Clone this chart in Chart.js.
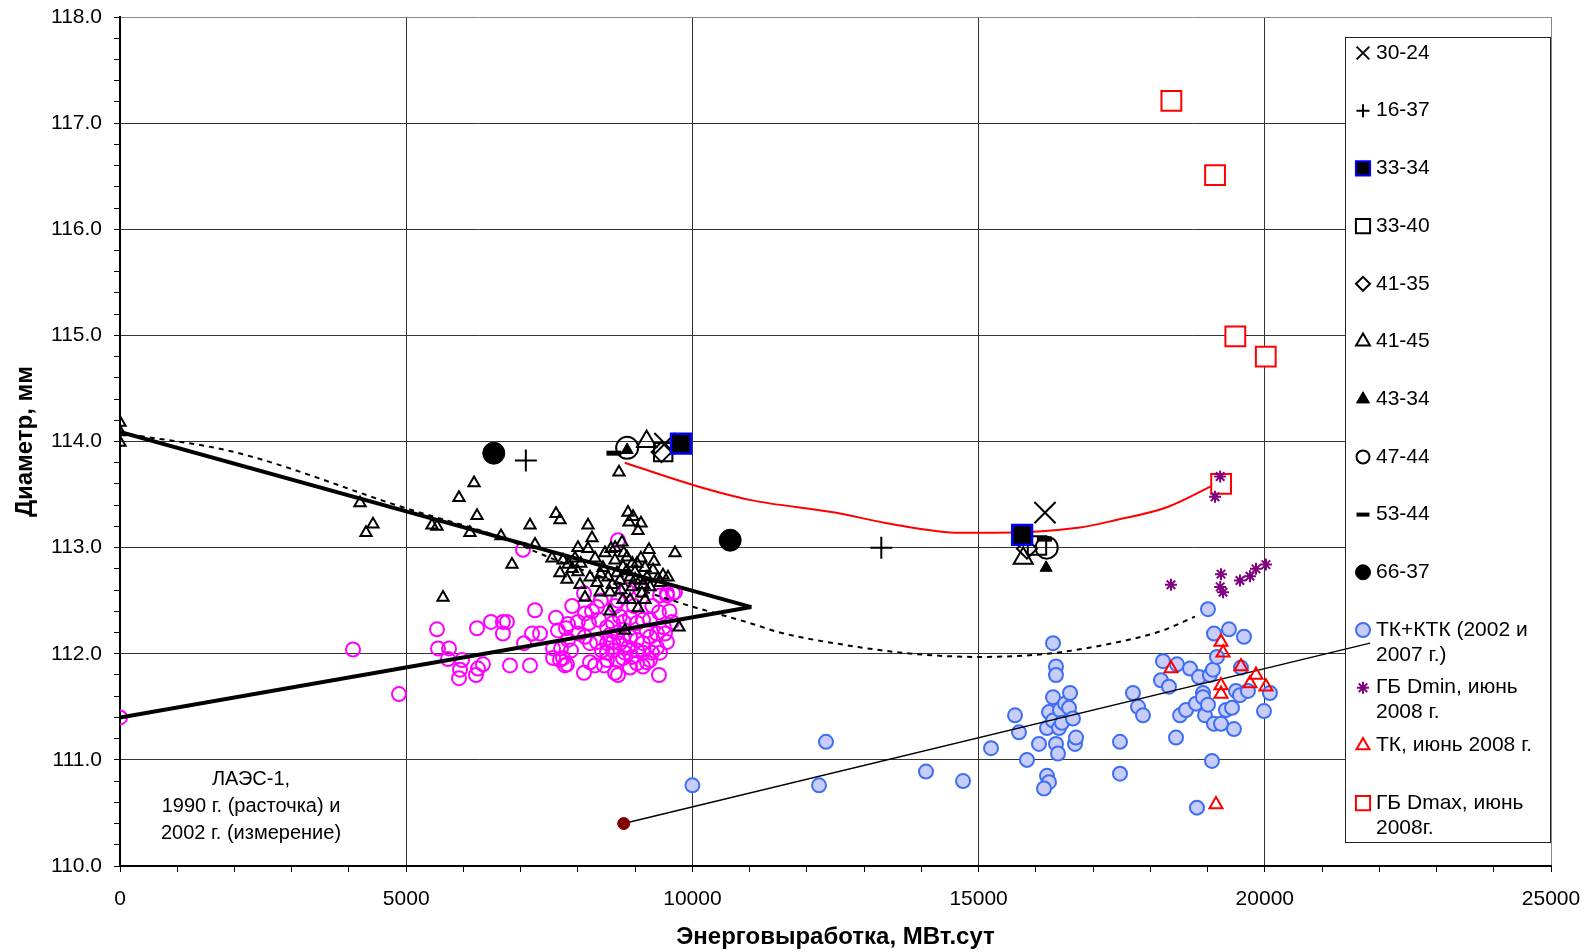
<!DOCTYPE html>
<html>
<head>
<meta charset="utf-8">
<script src="https://cdn.jsdelivr.net/npm/chart.js@4.4.0/dist/chart.umd.min.js"></script>
<style>
  html, body { margin: 0; padding: 0; background: #fff; }
  #wrap { width: 1591px; height: 952px; }
</style>
</head>
<body>
<div id="wrap"><canvas id="chart" width="1591" height="952"></canvas></div>
<script>
// axis ticks (major ones get labels and grid lines)
const xMajorTicks = [0, 5000, 10000, 15000, 20000, 25000];
const yMajorTicks = [110, 111, 112, 113, 114, 115, 116, 117, 118];

// single channels (2 points each)
const s3024 = [[9520, 113.98], [16160, 113.33]];
const s1637 = [[7090, 113.82], [13300, 113.0]];
const s3334 = [[9800, 113.98], [15760, 113.12]];
const s3340 = [[9490, 113.9], [16020, 113.02]];
const s4135 = [[9460, 113.9], [15845, 112.99]];
const s4145 = [[9200, 114.0], [15780, 112.9]];
const s4334 = [[8860, 113.92], [16180, 112.81]];
const s4744 = [[8860, 113.94], [16190, 113.0]];
const s5344 = [[8630, 113.89], [16150, 113.08]];
const s6637 = [[6530, 113.89], [10660, 113.07]];

// ТК+КТК (2002 и 2007 г.)
const tkKtk = [
  [10000, 110.76], [12334, 111.17], [12212, 110.76], [14081, 110.89], [14728, 110.8],
  [15217, 111.11], [15636, 111.42], [15706, 111.26], [15845, 111.0], [16055, 111.15],
  [16195, 110.85], [16230, 110.79], [16142, 110.73], [16195, 111.3], [16230, 111.45],
  [16300, 112.1], [16352, 111.88], [16352, 111.8], [16300, 111.59], [16300, 111.37],
  [16352, 111.15], [16387, 111.06], [16405, 111.3], [16422, 111.47], [16457, 111.35],
  [16510, 111.53], [16580, 111.49], [16597, 111.63], [16649, 111.39], [16684, 111.15],
  [16702, 111.21], [17470, 111.17], [17470, 110.87], [17697, 111.63], [17785, 111.5],
  [17872, 111.42], [18186, 111.75], [18221, 111.93], [18326, 111.69], [18449, 111.21],
  [18466, 111.9], [18519, 111.42], [18624, 111.47], [18693, 111.86], [18798, 111.53],
  [18850, 111.78], [18920, 111.63], [18920, 111.59], [18955, 111.42], [19007, 111.52],
  [19007, 112.42], [19042, 111.8], [19077, 110.99], [18815, 110.55], [19094, 111.85],
  [19112, 112.19], [19112, 111.34], [19164, 111.97], [19235, 111.34], [19322, 111.47],
  [19374, 112.23], [19427, 111.49], [19461, 111.29], [19496, 111.65], [19566, 111.61],
  [19584, 111.87], [19636, 112.16], [19706, 111.65], [19986, 111.46], [20090, 111.63]
];

// ГБ Dmin, июнь 2008 г.
const gbDmin = [
  [18361, 112.65], [19220, 113.67], [19131, 113.48], [19235, 112.75], [19221, 112.63],
  [19270, 112.58], [19566, 112.69], [19741, 112.73], [19846, 112.8], [20020, 112.84]
];

// ТК, июнь 2008 г.
const tk2008 = [
  [19235, 112.11], [19270, 112.01], [18361, 111.86], [19584, 111.88], [19846, 111.8],
  [19741, 111.72], [20020, 111.69], [19235, 111.7], [19235, 111.62], [19147, 110.58]
];

// ГБ Dmax, июнь 2008г.
const gbDmax = [[18368, 117.21], [19131, 116.51], [19485, 114.99], [20017, 114.8], [19237, 113.6]];

// ЛАЭС-1, 1990 (расточка) – magenta rings
const laesBore = [
  [0, 111.4], [4071, 112.04], [4874, 111.62], [5538, 112.23], [5556, 112.05], [5748, 112.05],
  [5730, 111.95], [5975, 111.94], [5940, 111.85], [5922, 111.77], [6237, 112.24], [6481, 112.3],
  [6690, 112.3], [6760, 112.3], [6690, 112.19], [6341, 111.9], [6254, 111.86], [6219, 111.8],
  [6813, 111.89], [7163, 111.89], [7250, 112.41], [7198, 112.19], [7338, 112.19], [7058, 112.1],
  [7617, 112.34], [7652, 112.22], [7792, 112.24], [7827, 112.13], [7565, 111.96], [7687, 111.94],
  [7774, 111.89], [7040, 112.98], [7827, 112.28], [7565, 112.05], [7705, 112.05], [7879, 112.03],
  [7740, 111.96], [7810, 111.9], [8106, 111.82], [8211, 111.92], [8298, 111.89], [8455, 111.89],
  [8648, 111.82], [8700, 111.8], [8124, 112.38], [8246, 112.4], [8368, 112.32], [8193, 112.29],
  [8001, 112.19], [8124, 112.16], [8211, 112.1], [8333, 112.11], [8420, 112.03], [8508, 112.01],
  [8613, 112.03], [8700, 111.94], [8822, 112.01], [8945, 111.97], [9032, 111.91], [9207, 111.92],
  [9294, 112.01], [9434, 112.01], [9556, 112.11], [9521, 112.19], [9643, 112.3], [9416, 111.8],
  [9696, 112.58], [9556, 112.57], [9416, 112.39], [9259, 112.32], [9137, 112.32], [9032, 112.29],
  [8910, 112.34], [8735, 112.35], [8613, 112.29], [8508, 112.25], [8560, 112.18], [8700, 112.2],
  [8787, 112.14], [8910, 112.16], [9032, 112.13], [9137, 112.1], [9259, 112.16], [9381, 112.19],
  [9381, 112.06], [9137, 112.01], [9032, 112.03], [8875, 112.06], [8735, 112.1], [8613, 112.11],
  [8508, 112.1], [8787, 111.96], [8910, 111.87], [9137, 111.88], [9259, 111.94], [8508, 111.94],
  [8700, 113.07], [8106, 112.57], [8700, 112.5], [8333, 112.44], [9556, 112.55], [9661, 112.57],
  [9434, 112.55], [8980, 112.45], [9100, 112.6], [8850, 112.6], [9300, 112.45], [9500, 112.25],
  [9600, 112.4], [8650, 112.45], [8800, 112.3], [9200, 112.22], [8400, 112.5], [8000, 112.3],
  [7900, 112.45]
];

// ЛАЭС-1, 2002 (измерение) – small open triangles
const laesMeas = [
  [0, 114.18], [0, 114.09], [0, 113.99], [4193, 113.42], [4420, 113.22], [4298, 113.14],
  [5451, 113.21], [5538, 113.2], [6185, 113.61], [5922, 113.47], [6237, 113.3], [6114, 113.14],
  [6656, 113.11], [7163, 113.21], [7250, 113.03], [6848, 112.84], [5643, 112.53], [7617, 113.32],
  [7687, 113.26], [8176, 113.21], [8246, 113.09], [8001, 113.0], [8176, 112.99], [8875, 113.33],
  [8962, 113.29], [8892, 113.24], [9102, 113.23], [9050, 113.16], [9242, 112.98], [9696, 112.95],
  [9329, 112.87], [8770, 113.05], [8578, 112.99], [8473, 112.95], [7547, 112.9], [7739, 112.88],
  [7827, 112.84], [7687, 112.76], [7809, 112.7], [8001, 112.77], [8036, 112.65], [8124, 112.53],
  [8211, 112.72], [8333, 112.67], [8438, 112.81], [8526, 112.72], [8386, 112.58], [8560, 112.58],
  [8648, 112.88], [8683, 112.76], [8735, 112.69], [8787, 112.82], [8857, 112.91], [8910, 112.72],
  [8945, 112.63], [8997, 112.77], [9032, 112.85], [9085, 112.69], [9119, 112.57], [9172, 112.81],
  [9207, 112.72], [9259, 112.63], [9312, 112.79], [9399, 112.71], [9486, 112.74], [9573, 112.72],
  [9434, 112.67], [8910, 112.51], [9050, 112.43], [8560, 112.4], [8822, 112.22], [9766, 112.25],
  [8787, 112.51], [9172, 112.51], [8717, 113.71], [7900, 112.8], [8300, 112.9], [8650, 113.0],
  [8800, 112.95], [8950, 112.85], [9100, 112.9], [8600, 112.65], [8750, 112.6], [9000, 112.7],
  [9150, 112.65], [8850, 112.78], [7950, 112.9], [8050, 112.85], [8400, 112.75]
];

// trend lines
const vUpper = [[0, 114.09], [11030, 112.44]];
const vLower = [[0, 111.4], [11030, 112.44]];
const dottedTrend = [
  [0, 114.08], [2000, 113.9], [5000, 113.37], [6640, 113.1], [7630, 112.88], [9780, 112.48],
  [11000, 112.29], [11530, 112.2], [12700, 112.08], [13850, 112.0], [15000, 111.97],
  [16200, 112.0], [17350, 112.1], [18220, 112.22], [18780, 112.35]
];
const redTrend = [
  [8820, 113.8], [10010, 113.59], [11000, 113.45], [12490, 113.33], [13500, 113.22],
  [14680, 113.14], [15250, 113.14], [16770, 113.19], [17400, 113.26], [18290, 113.38], [19180, 113.61]
];
const tkTrend = [[8800, 110.4], [21840, 112.1]];
const tkStart = [[8800, 110.4]];

// legend order and texts
const legendLabels = [
  ["30-24"], ["16-37"], ["33-34"], ["33-40"], ["41-35"], ["41-45"], ["43-34"],
  ["47-44"], ["53-44"], ["66-37"], ["ТК+КТК (2002 и", "2007 г.)"],
  ["ГБ Dmin, июнь", "2008 г."], ["ТК, июнь 2008 г."], ["ГБ Dmax, июнь", "2008г."]
];
const noteLines = ["ЛАЭС-1,", "1990 г. (расточка) и", "2002 г. (измерение)"];

const FONT = '"Liberation Sans", Arial, sans-serif';
const pts = (arr) => arr.map(([x, y]) => ({ x, y }));

function marker(label, data, style, r, fill, stroke, bw, order, legendR) {
  return {
    label, data: pts(data), showLine: false, order,
    pointStyle: style, pointRadius: r, pointHoverRadius: r,
    pointBackgroundColor: fill, pointBorderColor: stroke, pointBorderWidth: bw,
    legendR
  };
}
function line(label, data, color, width, dash, order, tension) {
  return {
    label, data: pts(data), showLine: true, order,
    borderColor: color, borderWidth: width, borderDash: dash || [],
    pointRadius: 0, pointHoverRadius: 0, tension: tension || 0,
    cubicInterpolationMode: tension ? 'monotone' : 'default'
  };
}

const NONE = 'rgba(0,0,0,0)';
const datasets = [
  marker("laesBore", laesBore, 'circle', 7, NONE, '#FF00FF', 2, 20),
  marker("laesMeas", laesMeas, 'triangle', 6.5, NONE, '#000', 2, 19),
  line("vUpper", vUpper, '#000', 4, null, 15),
  line("vLower", vLower, '#000', 4, null, 15),
  line("dotted", dottedTrend, '#000', 2, [5, 5], 15, 0.4),
  line("red", redTrend, '#FF0000', 2, null, 15, 0.4),
  marker("ТК+КТК (2002 и", tkKtk, 'circle', 7, '#C8CCF8', '#3D6EF5', 2, 14, 7),
  line("tkTrend", tkTrend, '#000', 1.5, null, 13),
  marker("tkStart", tkStart, 'circle', 6, '#800000', '#800000', 1, 12),
  marker("ГБ Dmin, июнь", gbDmin, 'star', 6, NONE, '#800080', 2, 11, 6),
  marker("ТК, июнь 2008 г.", tk2008, 'triangle', 7.5, NONE, '#FF0000', 2, 11, 7.5),
  marker("ГБ Dmax, июнь", gbDmax, 'rect', 14, '#fff', '#FF0000', 2, 11, 10),
  marker("53-44", s5344, 'line', 7.5, '#000', '#000', 5, 9, 6.5),
  marker("66-37", s6637, 'circle', 11, '#000', '#000', 1, 8, 7.5),
  marker("16-37", s1637, 'cross', 11, NONE, '#000', 2, 8, 6.5),
  marker("41-35", s4135, 'rectRot', 10, NONE, '#000', 2, 7, 7),
  marker("33-40", s3340, 'rect', 13, NONE, '#000', 2, 6, 10),
  marker("41-45", s4145, 'triangle', 11, NONE, '#000', 2, 5, 8),
  marker("47-44", s4744, 'circle', 11, NONE, '#000', 2, 4, 6.5),
  marker("43-34", s4334, 'triangle', 7, '#000', '#000', 1, 3, 7.5),
  marker("30-24", s3024, 'crossRot', 15, NONE, '#000', 2, 2, 9),
  marker("33-34", s3334, 'rect', 14, '#000', '#0000FF', 2.5, 1, 10)
];

// legend box drawn under the marks (the trend line crosses into it)
const legendBox = {
  id: 'legendBox',
  beforeDatasetsDraw(chart) {
    const ctx = chart.ctx;
    const left = 1345, top = 37, right = chart.chartArea.right, bottom = 843;
    ctx.save();
    ctx.fillStyle = '#fff';
    ctx.fillRect(left, top, right - left, bottom - top);
    ctx.strokeStyle = '#222';
    ctx.lineWidth = 1;
    ctx.strokeRect(left + 0.5, top + 0.5, right - left - 1, bottom - top - 1);
    legendLabels.forEach((lines, i) => {
      const ds = chart.data.datasets.find((d) => d.label === lines[0]);
      const y = top + 16 + 57.7 * i;
      if (ds) {
        ctx.fillStyle = ds.pointBackgroundColor;
        ctx.strokeStyle = ds.pointBorderColor;
        ctx.lineWidth = ds.pointStyle === 'line' ? 4 : Math.min(ds.pointBorderWidth, 2);
        Chart.helpers.drawPoint(ctx, {
          pointStyle: ds.pointStyle, radius: ds.legendR, rotation: 0,
          borderWidth: ctx.lineWidth
        }, 1363, y);
      }
      ctx.fillStyle = '#000';
      ctx.font = '21px ' + FONT;
      ctx.textAlign = 'left';
      ctx.textBaseline = 'middle';
      lines.forEach((t, j) => ctx.fillText(t, 1376, y + j * 25));
    });
    ctx.restore();
  }
};

const note = {
  id: 'note',
  afterDatasetsDraw(chart) {
    const ctx = chart.ctx;
    ctx.save();
    ctx.fillStyle = '#000';
    ctx.font = '20px ' + FONT;
    ctx.textAlign = 'center';
    ctx.textBaseline = 'middle';
    noteLines.forEach((t, i) => ctx.fillText(t, 251, 779 + i * 27));
    ctx.restore();
  }
};

const isMajor = (v, list) => list.some((m) => Math.abs(m - v) < 1e-6);

new Chart(document.getElementById('chart'), {
  type: 'scatter',
  data: { datasets },
  plugins: [legendBox, note],
  options: {
    responsive: false,
    animation: false,
    devicePixelRatio: 1,
    layout: { padding: { top: 17, right: 40, left: 0, bottom: 0 } },
    plugins: { legend: { display: false }, tooltip: { enabled: false } },
    scales: {
      x: {
        type: 'linear', min: 0, max: 25000,
        afterFit: (s) => { s.height = 86; s.paddingLeft = 0; s.paddingRight = 0; },
        ticks: {
          stepSize: 1000, autoSkip: false, maxRotation: 0, padding: 15,
          color: '#000', font: { size: 21, family: FONT },
          callback: (v) => (isMajor(v, xMajorTicks) ? String(v) : '')
        },
        grid: {
          color: (c) => (c.tick && isMajor(c.tick.value, xMajorTicks) ? (c.tick.value === 25000 ? '#888' : '#333') : NONE),
          tickColor: '#000', tickLength: 6, lineWidth: 1
        },
        border: { color: '#000', width: 2 },
        title: {
          display: true, text: 'Энерговыработка, МВт.сут', color: '#000',
          font: { size: 24, weight: 'bold', family: FONT }, padding: { top: 0, bottom: 0 }
        }
      },
      y: {
        type: 'linear', min: 110, max: 118,
        afterFit: (s) => { s.width = 120; s.paddingTop = 0; s.paddingBottom = 0; },
        ticks: {
          stepSize: 0.2, autoSkip: false, padding: 12,
          color: '#000', font: { size: 21, family: FONT },
          callback: (v) => (isMajor(v, yMajorTicks) ? Number(v).toFixed(1) : '')
        },
        grid: {
          color: (c) => (c.tick && isMajor(c.tick.value, yMajorTicks) ? (Math.abs(c.tick.value - 118) < 1e-6 ? '#888' : '#333') : NONE),
          tickColor: '#000', tickLength: 6, lineWidth: 1
        },
        border: { color: '#000', width: 2 },
        title: {
          display: true, text: 'Диаметр, мм', color: '#000',
          font: { size: 24, weight: 'bold', family: FONT }, padding: { top: 11, bottom: 0 }
        }
      }
    }
  }
});
</script>
</body>
</html>
